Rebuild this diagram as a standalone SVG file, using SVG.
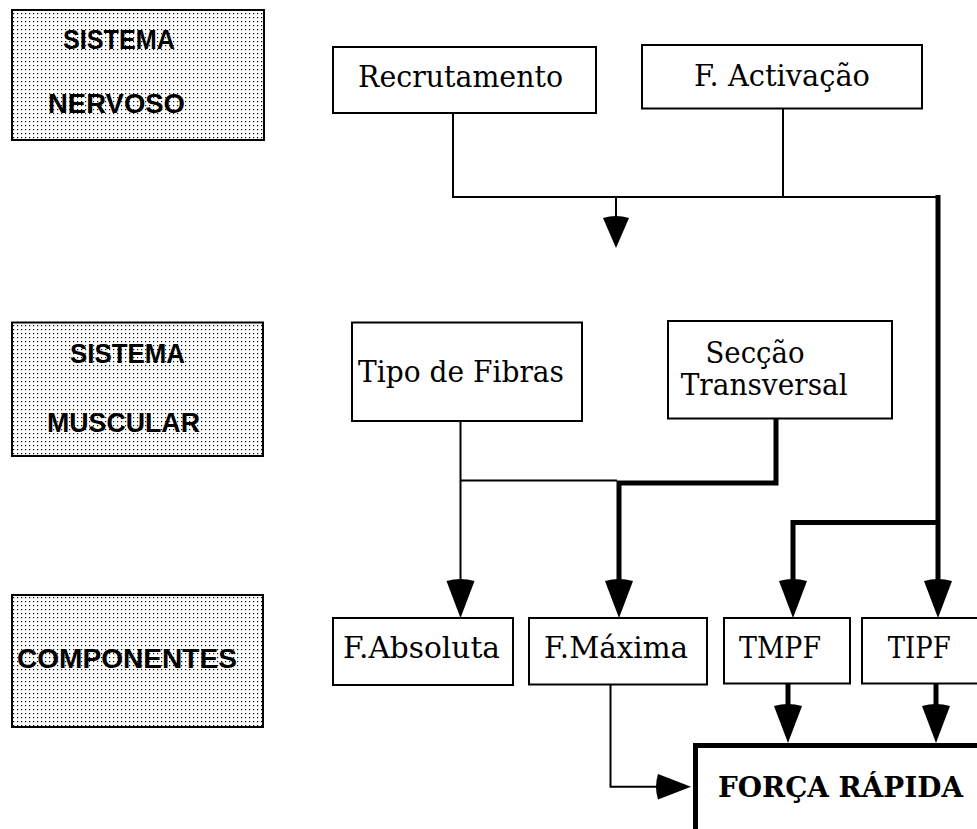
<svg xmlns="http://www.w3.org/2000/svg" width="977" height="829" viewBox="0 0 977 829">
<style>
.lbl{fill:url(#dots);stroke:#000;stroke-width:2}
.lt{font-family:"Liberation Sans",Arial,sans-serif;font-weight:bold;font-size:27px;fill:#000}
.box{fill:#fff;stroke:#000;stroke-width:2}
.big{fill:#fff;stroke:#000;stroke-width:5}
.t{font-family:"DejaVu Serif","Liberation Serif",serif;font-size:30px;fill:#000}
.tb{font-family:"DejaVu Serif","Liberation Serif",serif;font-size:27px;font-weight:bold;fill:#000}
.thin{fill:none;stroke:#000;stroke-width:2}
.thick{fill:none;stroke:#000;stroke-width:5}
.ah{fill:#000}
</style>
<defs>
<pattern id="dots" width="4" height="4" patternUnits="userSpaceOnUse">
<rect width="4" height="4" fill="#fff"/>
<rect x="1" y="1" width="1.2" height="1.2" fill="#000"/>
</pattern>
<path id="down" d="M-14,0 Q0,-4 14,0 L0,37 Z"/>
</defs>

<g id="lbl-nervoso">
<rect class="lbl" x="12" y="10" width="252" height="130"/>
<text class="lt" x="63" y="49" textLength="112" lengthAdjust="spacingAndGlyphs">SISTEMA</text>
<text class="lt" x="48" y="113" textLength="137" lengthAdjust="spacingAndGlyphs">NERVOSO</text>
</g>
<g id="lbl-muscular">
<rect class="lbl" x="12" y="322.5" width="251" height="133.5"/>
<text class="lt" x="70" y="363" textLength="115" lengthAdjust="spacingAndGlyphs">SISTEMA</text>
<text class="lt" x="47" y="432" textLength="153" lengthAdjust="spacingAndGlyphs">MUSCULAR</text>
</g>
<g id="lbl-componentes">
<rect class="lbl" x="12" y="595" width="251" height="132"/>
<text class="lt" x="17" y="668" textLength="220" lengthAdjust="spacingAndGlyphs">COMPONENTES</text>
</g>

<g id="connectors">
<path class="thin" d="M453,113 V197 H938"/>
<path class="thin" d="M783,108.5 V197"/>
<path class="thin" d="M616,197 V220"/>
<path class="ah" d="M603,218 Q616,214 629,218 L616,248 Z"/>
<path class="thick" d="M938,195 V583"/>
<path class="thick" d="M938,522.5 H793 V583"/>
<path class="thin" d="M460.5,421 V583"/>
<path class="thin" d="M460.5,480.5 H617"/>
<path class="thick" d="M776,418.5 V483 H619 V583"/>
<use href="#down" x="460.5" y="581"/>
<use href="#down" x="619" y="581"/>
<use href="#down" x="793" y="581"/>
<use href="#down" x="938" y="581"/>
<path class="thick" d="M788,684 V708"/>
<path class="thick" d="M936,684 V708"/>
<use href="#down" x="788" y="706"/>
<use href="#down" x="936" y="706"/>
<path class="thin" d="M610.5,684.5 V786.7 H660"/>
<path class="ah" d="M658,774 Q654,786.7 658,799.4 L691,786.7 Z"/>
</g>

<g id="n-recrutamento">
<rect class="box" x="333" y="47" width="263" height="66"/>
<text class="t" x="358" y="86.7" textLength="205" lengthAdjust="spacingAndGlyphs">Recrutamento</text>
</g>
<g id="n-activacao">
<rect class="box" x="642" y="45" width="280" height="63.5"/>
<text class="t" x="694" y="86" textLength="176" lengthAdjust="spacingAndGlyphs">F. Activação</text>
</g>
<g id="n-fibras">
<rect class="box" x="352" y="322.5" width="230" height="98.5"/>
<text class="t" x="358" y="381.7" textLength="206" lengthAdjust="spacingAndGlyphs">Tipo de Fibras</text>
</g>
<g id="n-seccao">
<rect class="box" x="668" y="321" width="224" height="97.5"/>
<text class="t" x="705.5" y="362.7" textLength="99" lengthAdjust="spacingAndGlyphs">Secção</text>
<text class="t" x="680.7" y="395" textLength="167" lengthAdjust="spacingAndGlyphs">Transversal</text>
</g>
<g id="n-fabsoluta">
<rect class="box" x="333" y="618" width="180" height="67"/>
<text class="t" x="343" y="658" textLength="157" lengthAdjust="spacingAndGlyphs">F.Absoluta</text>
</g>
<g id="n-fmaxima">
<rect class="box" x="529" y="618" width="178" height="66.5"/>
<text class="t" x="544" y="658" textLength="144" lengthAdjust="spacingAndGlyphs">F.Máxima</text>
</g>
<g id="n-tmpf">
<rect class="box" x="724" y="618" width="126" height="65.5"/>
<text class="t" x="739" y="658" textLength="82" lengthAdjust="spacingAndGlyphs">TMPF</text>
</g>
<g id="n-tipf">
<rect class="box" x="862" y="618" width="130" height="65.5"/>
<text class="t" x="887.7" y="658" textLength="63" lengthAdjust="spacingAndGlyphs">TIPF</text>
</g>
<g id="n-forca">
<rect class="big" x="695.5" y="745.5" width="300" height="100"/>
<text class="tb" x="718" y="796.7" textLength="245" lengthAdjust="spacingAndGlyphs">FORÇA RÁPIDA</text>
</g>
</svg>
